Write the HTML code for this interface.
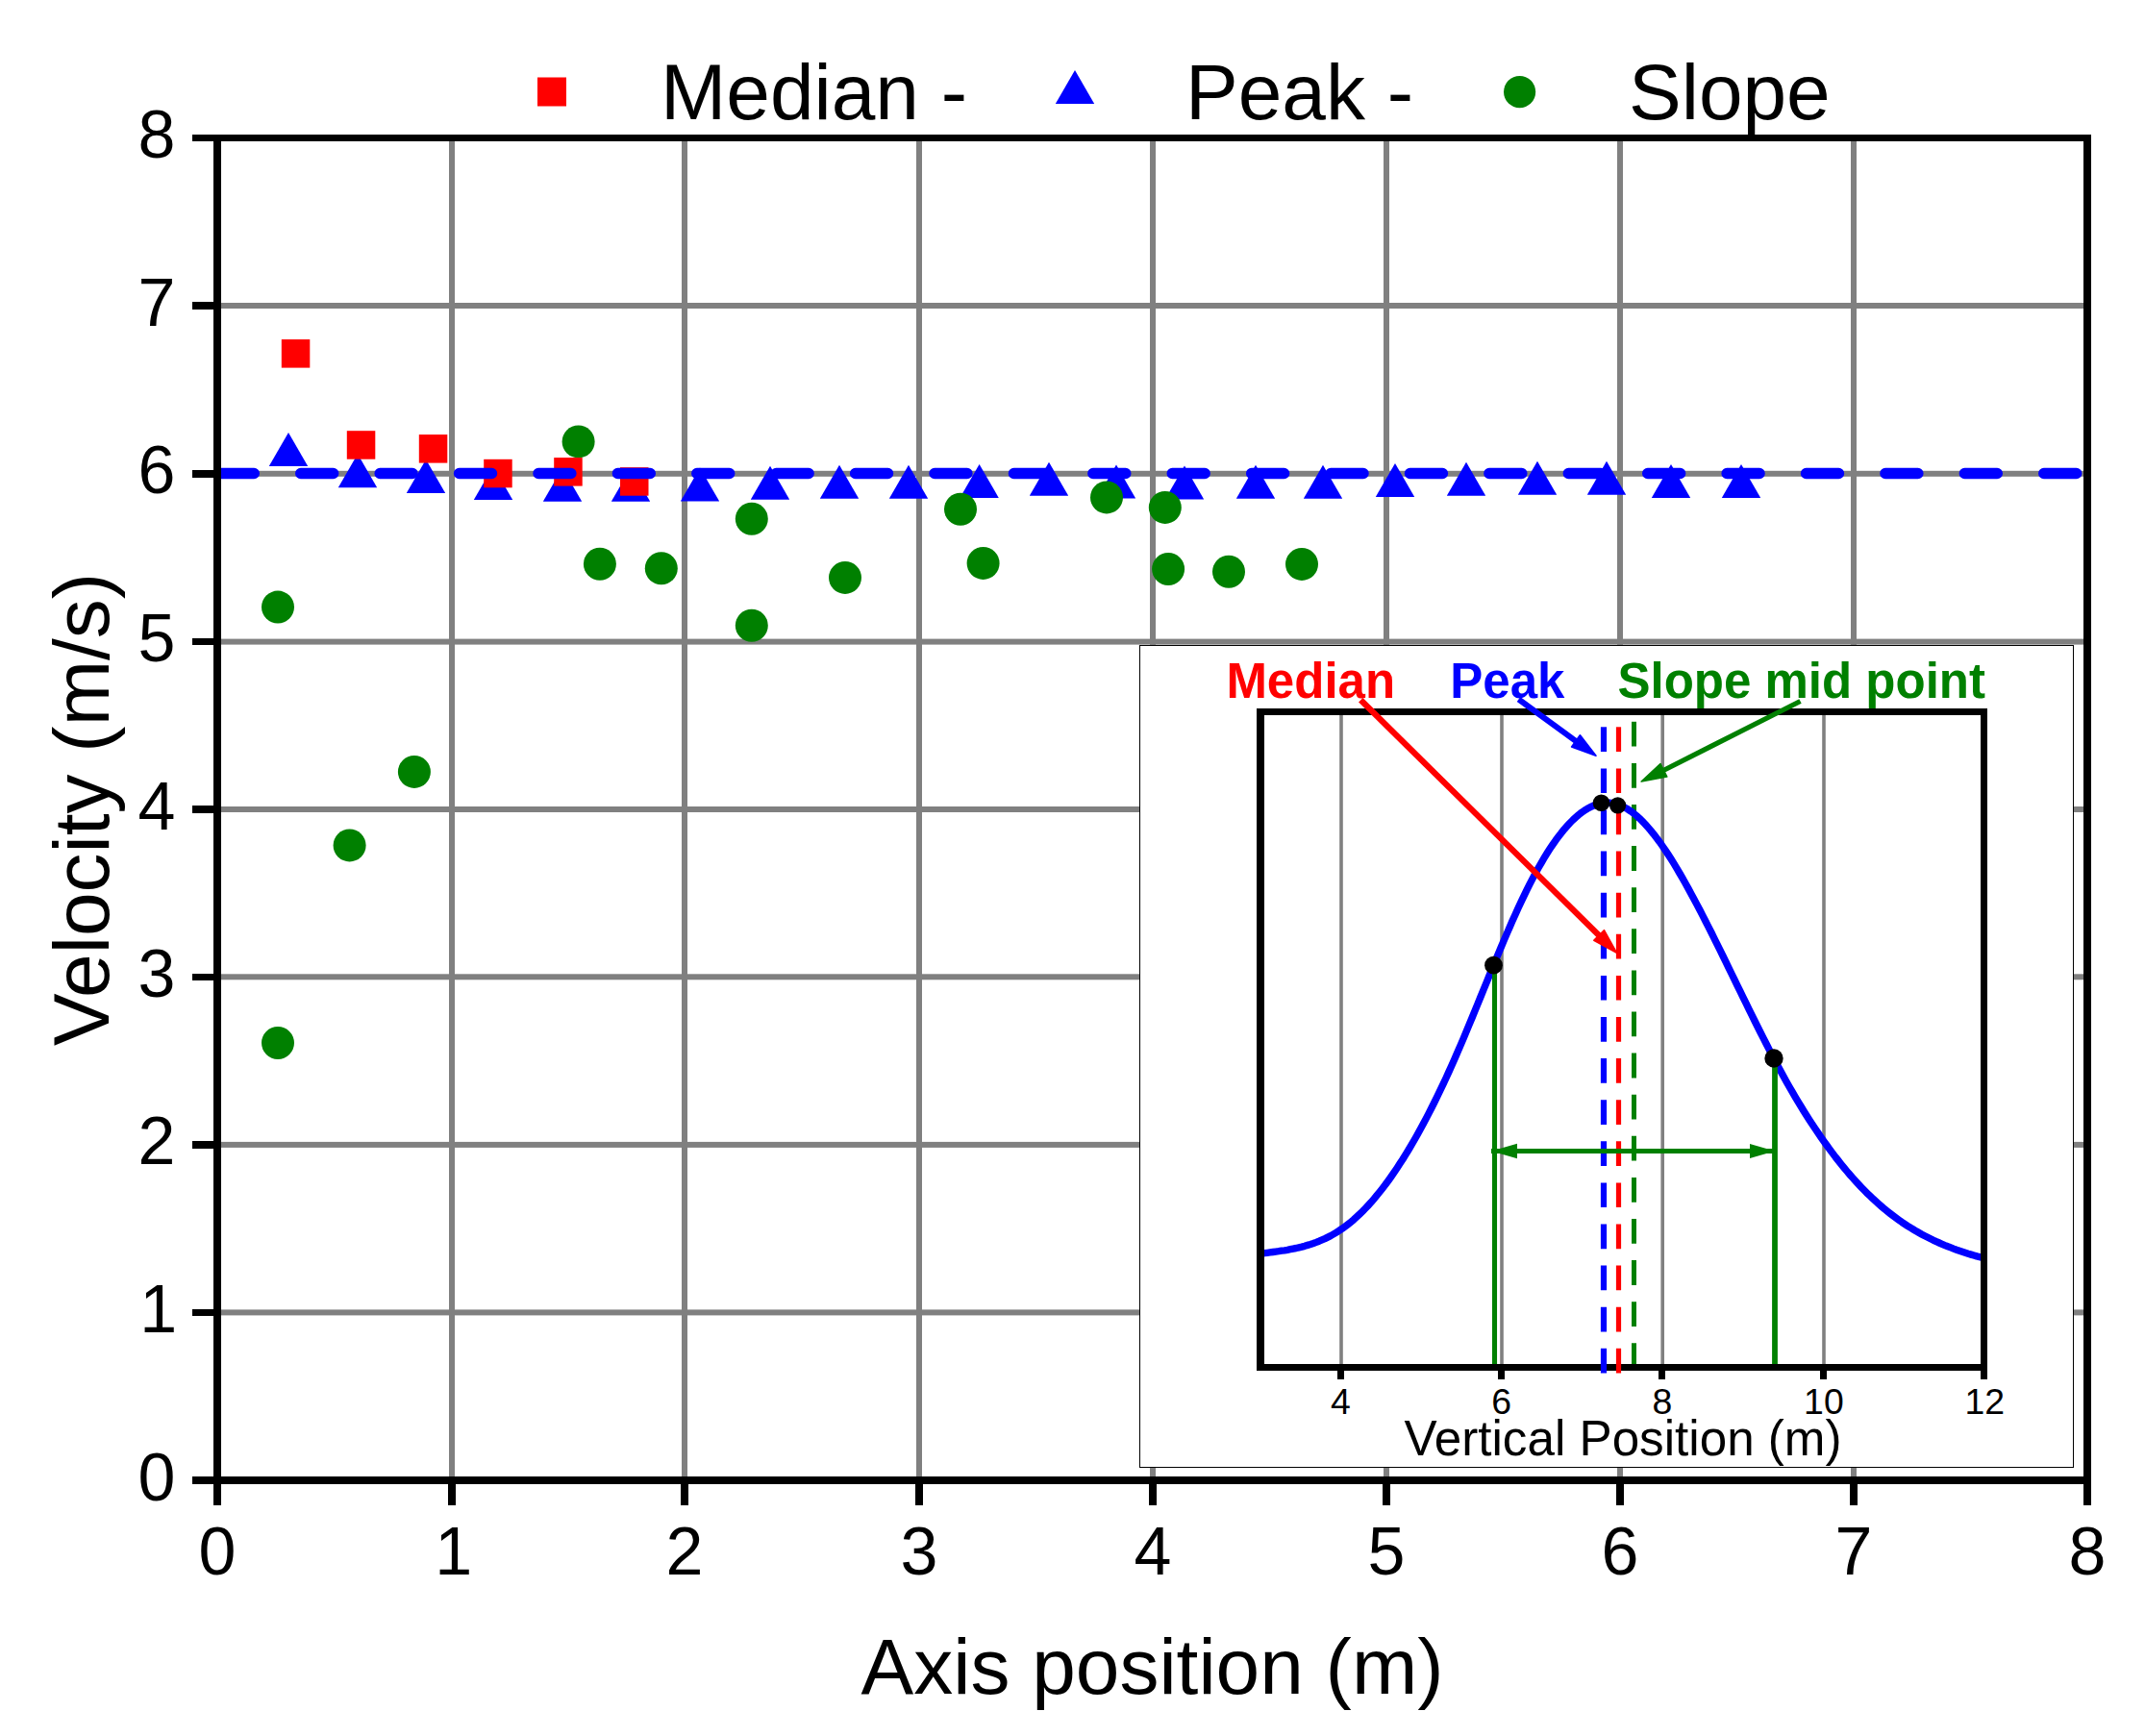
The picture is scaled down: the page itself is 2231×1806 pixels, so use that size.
<!DOCTYPE html>
<html lang="en"><head><meta charset="utf-8"><title>Velocity vs axis position</title>
<style>html,body{margin:0;padding:0;background:#fff;}svg{display:block;}text{font-family:"Liberation Sans",Arial,sans-serif;}</style></head><body>
<svg width="2231" height="1806" viewBox="0 0 2231 1806">
<rect x="0" y="0" width="2231" height="1806" fill="#ffffff"/>
<g fill="#808080">
<rect x="467" y="147" width="6" height="1389"/>
<rect x="709" y="147" width="6" height="1389"/>
<rect x="953" y="147" width="6" height="1389"/>
<rect x="1196" y="147" width="6" height="1389"/>
<rect x="1439" y="147" width="6" height="1389"/>
<rect x="1682" y="147" width="6" height="1389"/>
<rect x="1925" y="147" width="6" height="1389"/>
<rect x="230" y="1362.4" width="1937" height="6"/>
<rect x="230" y="1187.9" width="1937" height="6"/>
<rect x="230" y="1013.3" width="1937" height="6"/>
<rect x="230" y="839.0" width="1937" height="6"/>
<rect x="230" y="664.6" width="1937" height="6"/>
<rect x="230" y="489.8" width="1937" height="6"/>
<rect x="230" y="315.0" width="1937" height="6"/>
</g>
<g fill="#0000ff">
<path d="M279.8 485.0L320.2 485.0L300.0 450.0Z"/>
<path d="M351.8 507.2L392.2 507.2L372.0 472.2Z"/>
<path d="M422.8 513.0L463.2 513.0L443.0 478.0Z"/>
<path d="M492.8 520.0L533.2 520.0L513.0 485.0Z"/>
<path d="M564.8 521.8L605.2 521.8L585.0 486.8Z"/>
<path d="M635.8 521.8L676.2 521.8L656.0 486.8Z"/>
<path d="M707.8 521.6L748.2 521.6L728.0 486.6Z"/>
<path d="M780.8 519.7L821.2 519.7L801.0 484.7Z"/>
<path d="M852.8 518.8L893.2 518.8L873.0 483.8Z"/>
<path d="M924.8 518.8L965.2 518.8L945.0 483.8Z"/>
<path d="M998.4 517.9L1038.8 517.9L1018.6 482.9Z"/>
<path d="M1070.8 515.8L1111.2 515.8L1091.0 480.8Z"/>
<path d="M1140.8 518.6L1181.2 518.6L1161.0 483.6Z"/>
<path d="M1211.8 519.5L1252.2 519.5L1232.0 484.5Z"/>
<path d="M1285.8 518.8L1326.2 518.8L1306.0 483.8Z"/>
<path d="M1355.8 518.8L1396.2 518.8L1376.0 483.8Z"/>
<path d="M1430.8 516.9L1471.2 516.9L1451.0 481.9Z"/>
<path d="M1504.8 515.8L1545.2 515.8L1525.0 480.8Z"/>
<path d="M1578.8 514.8L1619.2 514.8L1599.0 479.8Z"/>
<path d="M1650.8 514.8L1691.2 514.8L1671.0 479.8Z"/>
<path d="M1717.8 517.9L1758.2 517.9L1738.0 482.9Z"/>
<path d="M1790.8 517.9L1831.2 517.9L1811.0 482.9Z"/>
</g>
<g fill="#008000">
<circle cx="289" cy="631.6" r="17"/>
<circle cx="289" cy="1085" r="17"/>
<circle cx="363.6" cy="879.4" r="17"/>
<circle cx="430.9" cy="802.9" r="17"/>
<circle cx="601.6" cy="459.4" r="17"/>
<circle cx="623.9" cy="586.7" r="17"/>
<circle cx="687.8" cy="591.2" r="17"/>
<circle cx="781.8" cy="539.8" r="17"/>
<circle cx="781.8" cy="650.7" r="17"/>
<circle cx="879" cy="600.9" r="17"/>
<circle cx="999" cy="529.8" r="17"/>
<circle cx="1022.6" cy="585.9" r="17"/>
<circle cx="1151" cy="517.4" r="17"/>
<circle cx="1211.8" cy="527.9" r="17"/>
<circle cx="1215.1" cy="592" r="17"/>
<circle cx="1278" cy="594.8" r="17"/>
<circle cx="1354" cy="586.9" r="17"/>
</g>
<g fill="#ff0000">
<rect x="292.8" y="353.1" width="29.5" height="29.5"/>
<rect x="360.8" y="448.2" width="29.5" height="29.5"/>
<rect x="435.8" y="452.1" width="29.5" height="29.5"/>
<rect x="503.2" y="477.8" width="29.5" height="29.5"/>
<rect x="576.2" y="476.1" width="29.5" height="29.5"/>
<rect x="645.0" y="486.2" width="29.5" height="29.5"/>
</g>
<line x1="230.4" y1="492.5" x2="2160" y2="492.5" stroke="#0000ff" stroke-width="11.6" stroke-linecap="round" stroke-dasharray="33.8 48.61"/>
<rect x="1185.5" y="671.5" width="971" height="855" fill="#ffffff" stroke="#000000" stroke-width="1"/>
<g stroke="#808080" stroke-width="3.6">
<line x1="1395" y1="744" x2="1395" y2="1420"/>
<line x1="1562" y1="744" x2="1562" y2="1420"/>
<line x1="1729.2" y1="744" x2="1729.2" y2="1420"/>
<line x1="1897" y1="744" x2="1897" y2="1420"/>
</g>
<line x1="1699.5" y1="750.8" x2="1699.5" y2="1423" stroke="#008000" stroke-width="5" stroke-dasharray="25.8 17.3"/>
<clipPath id="ic"><rect x="1311" y="740" width="752.7" height="683"/></clipPath>
<path d="M1306.0 1304.8L1309.0 1304.4L1312.0 1304.0L1315.0 1303.7L1318.0 1303.3L1321.0 1302.9L1324.0 1302.5L1327.0 1302.1L1330.0 1301.7L1333.0 1301.2L1336.0 1300.8L1339.0 1300.3L1342.0 1299.7L1345.0 1299.1L1348.0 1298.5L1351.0 1297.8L1354.0 1297.1L1357.0 1296.3L1360.0 1295.4L1363.0 1294.5L1366.0 1293.5L1369.0 1292.4L1372.0 1291.2L1375.0 1289.9L1378.0 1288.6L1381.0 1287.1L1384.0 1285.6L1387.0 1283.9L1390.0 1282.1L1393.0 1280.2L1396.0 1278.2L1399.0 1276.0L1402.0 1273.7L1405.0 1271.3L1408.0 1268.8L1411.0 1266.1L1414.0 1263.3L1417.0 1260.4L1420.0 1257.3L1423.0 1254.1L1426.0 1250.8L1429.0 1247.3L1432.0 1243.7L1435.0 1240.0L1438.0 1236.2L1441.0 1232.3L1444.0 1228.2L1447.0 1224.0L1450.0 1219.7L1453.0 1215.2L1456.0 1210.6L1459.0 1206.0L1462.0 1201.1L1465.0 1196.2L1468.0 1191.2L1471.0 1186.0L1474.0 1180.7L1477.0 1175.3L1480.0 1169.8L1483.0 1164.1L1486.0 1158.4L1489.0 1152.5L1492.0 1146.5L1495.0 1140.4L1498.0 1134.2L1501.0 1127.9L1504.0 1121.5L1507.0 1114.9L1510.0 1108.3L1513.0 1101.5L1516.0 1094.6L1519.0 1087.6L1522.0 1080.6L1525.0 1073.4L1528.0 1066.2L1531.0 1059.0L1534.0 1051.7L1537.0 1044.4L1540.0 1037.0L1543.0 1029.7L1546.0 1022.3L1549.0 1015.0L1552.0 1007.7L1555.0 1000.4L1558.0 993.2L1561.0 986.0L1564.0 978.9L1567.0 971.9L1570.0 965.0L1573.0 958.1L1576.0 951.4L1579.0 944.8L1582.0 938.4L1585.0 932.1L1588.0 925.9L1591.0 919.9L1594.0 914.1L1597.0 908.5L1600.0 903.0L1603.0 897.8L1606.0 892.7L1609.0 887.8L1612.0 883.1L1615.0 878.6L1618.0 874.3L1621.0 870.3L1624.0 866.4L1627.0 862.7L1630.0 859.3L1633.0 856.0L1636.0 853.0L1639.0 850.2L1642.0 847.6L1645.0 845.3L1648.0 843.2L1651.0 841.3L1654.0 839.7L1657.0 838.3L1660.0 837.2L1663.0 836.3L1666.0 835.7L1669.0 835.3L1672.0 835.2L1675.0 835.3L1678.0 835.7L1681.0 836.4L1684.0 837.4L1687.0 838.6L1690.0 840.1L1693.0 841.8L1696.0 843.8L1699.0 846.0L1702.0 848.5L1705.0 851.2L1708.0 854.1L1711.0 857.2L1714.0 860.6L1717.0 864.1L1720.0 867.8L1723.0 871.7L1726.0 875.7L1729.0 880.0L1732.0 884.4L1735.0 888.9L1738.0 893.6L1741.0 898.4L1744.0 903.4L1747.0 908.5L1750.0 913.7L1753.0 919.0L1756.0 924.4L1759.0 929.9L1762.0 935.4L1765.0 941.1L1768.0 946.8L1771.0 952.6L1774.0 958.5L1777.0 964.4L1780.0 970.3L1783.0 976.3L1786.0 982.4L1789.0 988.4L1792.0 994.5L1795.0 1000.7L1798.0 1006.8L1801.0 1013.0L1804.0 1019.1L1807.0 1025.3L1810.0 1031.4L1813.0 1037.6L1816.0 1043.7L1819.0 1049.8L1822.0 1055.9L1825.0 1062.0L1828.0 1068.0L1831.0 1074.0L1834.0 1079.9L1837.0 1085.8L1840.0 1091.6L1843.0 1097.4L1846.0 1103.1L1849.0 1108.7L1852.0 1114.3L1855.0 1119.8L1858.0 1125.2L1861.0 1130.5L1864.0 1135.7L1867.0 1140.8L1870.0 1145.9L1873.0 1150.8L1876.0 1155.7L1879.0 1160.5L1882.0 1165.2L1885.0 1169.8L1888.0 1174.3L1891.0 1178.7L1894.0 1183.1L1897.0 1187.3L1900.0 1191.5L1903.0 1195.6L1906.0 1199.6L1909.0 1203.6L1912.0 1207.4L1915.0 1211.2L1918.0 1214.9L1921.0 1218.5L1924.0 1222.0L1927.0 1225.4L1930.0 1228.7L1933.0 1232.0L1936.0 1235.2L1939.0 1238.3L1942.0 1241.3L1945.0 1244.2L1948.0 1247.1L1951.0 1249.8L1954.0 1252.5L1957.0 1255.1L1960.0 1257.7L1963.0 1260.1L1966.0 1262.5L1969.0 1264.8L1972.0 1267.0L1975.0 1269.2L1978.0 1271.3L1981.0 1273.3L1984.0 1275.3L1987.0 1277.2L1990.0 1279.0L1993.0 1280.8L1996.0 1282.5L1999.0 1284.2L2002.0 1285.8L2005.0 1287.3L2008.0 1288.8L2011.0 1290.3L2014.0 1291.7L2017.0 1293.0L2020.0 1294.3L2023.0 1295.6L2026.0 1296.8L2029.0 1297.9L2032.0 1299.1L2035.0 1300.2L2038.0 1301.2L2041.0 1302.2L2044.0 1303.2L2047.0 1304.2L2050.0 1305.1L2053.0 1306.0L2056.0 1306.9L2059.0 1307.7L2062.0 1308.5L2065.0 1309.3L2068.0 1310.1" fill="none" stroke="#0000ff" stroke-width="7.4" stroke-linejoin="round" clip-path="url(#ic)"/>
<line x1="1554.5" y1="1004" x2="1554.5" y2="1421" stroke="#008000" stroke-width="5.1"/>
<line x1="1846" y1="1101" x2="1846" y2="1421" stroke="#008000" stroke-width="5.8"/>
<g fill="#000000" shape-rendering="crispEdges">
<rect x="1307.3" y="737" width="7.4" height="689"/>
<rect x="2060.2" y="737" width="7" height="697.7"/>
<rect x="1307.3" y="737" width="759.9" height="7"/>
<rect x="1307.3" y="1419.3" width="759.9" height="6.7"/>
<rect x="1391.0" y="1425" width="7" height="9.7"/>
<rect x="1558.1" y="1425" width="7" height="9.7"/>
<rect x="1725.3" y="1425" width="7" height="9.7"/>
<rect x="1892.9" y="1425" width="7" height="9.7"/>
</g>
<line x1="1668" y1="756.3" x2="1668" y2="1428.6" stroke="#0000ff" stroke-width="6.2" stroke-dasharray="25.7 17.4"/>
<line x1="1683.5" y1="756.3" x2="1683.5" y2="1428.6" stroke="#ff0000" stroke-width="5.2" stroke-dasharray="25.7 17.4"/>
<line x1="1415.3" y1="728.3" x2="1664.5" y2="974.4" stroke="#ff0000" stroke-width="6.3"/><path d="M1681.6 991.3L1657.8 978.4L1668.4 967.7Z" fill="#ff0000" stroke="#ff0000" stroke-width="1.6" stroke-linejoin="round"/>
<line x1="1579.5" y1="727.5" x2="1640.6" y2="772.1" stroke="#0000ff" stroke-width="6.0"/><path d="M1660.0 786.2L1634.6 776.9L1643.4 764.8Z" fill="#0000ff" stroke="#0000ff" stroke-width="1.6" stroke-linejoin="round"/>
<line x1="1872.5" y1="729.5" x2="1728.6" y2="802.2" stroke="#008000" stroke-width="5.2"/><path d="M1707.2 813.0L1727.0 794.6L1733.8 808.0Z" fill="#008000" stroke="#008000" stroke-width="1.6" stroke-linejoin="round"/>
<line x1="1551" y1="1197.5" x2="1846" y2="1197.5" stroke="#008000" stroke-width="4.8"/>
<path d="M1551 1197.5L1578 1189.8L1578 1205.2Z" fill="#008000"/>
<path d="M1846 1197.5L1820 1190L1820 1205Z" fill="#008000"/>
<circle cx="1665.5" cy="835.3" r="8.8" fill="#000000"/>
<circle cx="1682.6" cy="837.8" r="8.6" fill="#000000"/>
<circle cx="1553.5" cy="1004.2" r="9.4" fill="#000000"/>
<circle cx="1845" cy="1101" r="9.7" fill="#000000"/>
<g font-weight="bold" font-size="51">
<text x="1275.4" y="726" fill="#ff0000">Median</text>
<text x="1508.3" y="726" fill="#0000ff">Peak</text>
<text x="1682.5" y="726" fill="#008000">Slope mid point</text>
</g>
<g font-size="37.4" text-anchor="middle" fill="#000000">
<text x="1394.5" y="1471">4</text>
<text x="1561.6" y="1471">6</text>
<text x="1728.8" y="1471">8</text>
<text x="1896.9" y="1471">10</text>
<text x="2064.2" y="1471">12</text>
</g>
<text x="1688" y="1514" font-size="51.2" text-anchor="middle" fill="#000000">Vertical Position (m)</text>
<g fill="#000000" shape-rendering="crispEdges">
<rect x="222" y="140" width="8" height="1426"/>
<rect x="2167" y="140" width="8" height="1426"/>
<rect x="200" y="140" width="1975" height="7"/>
<rect x="200" y="1536" width="1975" height="8"/>
<rect x="466" y="1544" width="8" height="22"/>
<rect x="200" y="1361.65" width="22" height="7.5"/>
<rect x="708" y="1544" width="8" height="22"/>
<rect x="200" y="1187.15" width="22" height="7.5"/>
<rect x="952" y="1544" width="8" height="22"/>
<rect x="200" y="1012.55" width="22" height="7.5"/>
<rect x="1195" y="1544" width="8" height="22"/>
<rect x="200" y="838.25" width="22" height="7.5"/>
<rect x="1438" y="1544" width="8" height="22"/>
<rect x="200" y="663.85" width="22" height="7.5"/>
<rect x="1681" y="1544" width="8" height="22"/>
<rect x="200" y="489.05" width="22" height="7.5"/>
<rect x="1924" y="1544" width="8" height="22"/>
<rect x="200" y="314.25" width="22" height="7.5"/>
</g>
<g font-size="70" fill="#000000" text-anchor="middle">
<text x="226" y="1638">0</text>
<text x="471.8" y="1638">1</text>
<text x="712" y="1638">2</text>
<text x="956" y="1638">3</text>
<text x="1199" y="1638">4</text>
<text x="1442" y="1638">5</text>
<text x="1685" y="1638">6</text>
<text x="1928" y="1638">7</text>
<text x="2171" y="1638">8</text>
</g>
<g font-size="70" fill="#000000" text-anchor="end">
<text x="182.5" y="1560.5">0</text>
<text x="184.3" y="1385.9">1</text>
<text x="182.5" y="1211.4">2</text>
<text x="182.5" y="1036.8">3</text>
<text x="182.5" y="862.5">4</text>
<text x="182.5" y="688.1">5</text>
<text x="182.5" y="513.3">6</text>
<text x="182.5" y="338.5">7</text>
<text x="182.5" y="164.0">8</text>
</g>
<text x="1198.5" y="1762" font-size="82" text-anchor="middle" fill="#000000">Axis position (m)</text>
<text transform="translate(113 842) rotate(-90)" font-size="82" text-anchor="middle" fill="#000000">Velocity (m/s)</text>
<rect x="559" y="80.5" width="30" height="30" fill="#ff0000"/>
<text x="687" y="124" font-size="82" fill="#000000">Median -</text>
<path d="M1097.8 108L1138.2 108L1118 73Z" fill="#0000ff"/>
<text x="1233" y="124" font-size="82" fill="#000000">Peak -</text>
<circle cx="1580.6" cy="95.6" r="16.6" fill="#008000"/>
<text x="1694" y="124" font-size="82" fill="#000000">Slope</text>
</svg></body></html>
